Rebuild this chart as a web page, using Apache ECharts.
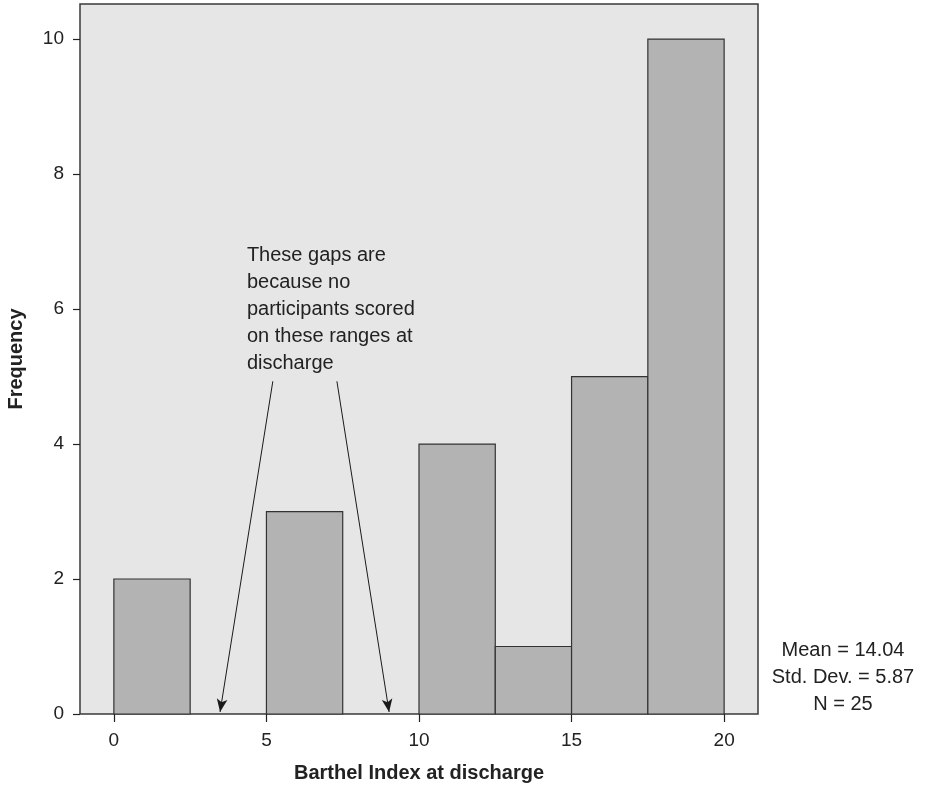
<!DOCTYPE html>
<html>
<head>
<meta charset="utf-8">
<script src="https://cdn.jsdelivr.net/npm/echarts@6/dist/echarts.min.js"></script>
<style>
  html, body { margin: 0; padding: 0; background: #fff; }
  #chart { width: 926px; height: 787px; }
</style>
</head>
<body>
<div id="chart"></div>
<script>
// Histogram bins of the Barthel Index (width 2.5) and their counts
const binStarts = [0, 2.5, 5, 7.5, 10, 12.5, 15, 17.5];
const binWidth = 2.5;
const frequencies = [2, 0, 3, 0, 4, 1, 5, 10];

const xTicks = [0, 5, 10, 15, 20];
const yTicks = [0, 2, 4, 6, 8, 10];

// Annotation: two pointer lines from under the note down to the empty bins
const pointerStarts = [[5.21, 4.93], [7.31, 4.93]];
const pointerEnds = [[3.48, 0.03], [9.02, 0.03]];
const noteTopLeft = [4.36, 7.0];
const noteLines = [
  'These gaps are',
  'because no',
  'participants scored',
  'on these ranges at',
  'discharge'
];

const statsLines = ['Mean = 14.04', 'Std. Dev. = 5.87', 'N = 25'];

const FONT = '"Liberation Sans", Arial, Helvetica, sans-serif';
const chart = echarts.init(document.getElementById('chart'), null, { renderer: 'canvas' });

const bins = binStarts.map((s, i) => [s, s + binWidth, frequencies[i]]);

chart.setOption({
  animation: false,
  backgroundColor: '#ffffff',
  grid: {
    left: 80, right: 168, top: 4, bottom: 73,
    containLabel: false,
    outerBoundsMode: 'none',
    show: true,
    backgroundColor: '#e6e6e6',
    borderColor: '#3a3a3a',
    borderWidth: 1.5
  },
  xAxis: {
    type: 'value',
    min: -1.11, max: 21.11,
    splitLine: { show: false },
    axisLine: { show: false, onZero: false },
    axisTick: { show: true, customValues: xTicks, length: 8, lineStyle: { color: '#222', width: 1.2 } },
    axisLabel: { customValues: xTicks, color: '#222', fontSize: 19, fontFamily: FONT, margin: 17 },
    name: 'Barthel Index at discharge',
    nameLocation: 'middle',
    nameGap: 49,
    nameTextStyle: { color: '#222', fontSize: 20, fontWeight: 'bold', fontFamily: FONT }
  },
  yAxis: {
    type: 'value',
    min: 0, max: 10.52,
    splitLine: { show: false },
    axisLine: { show: false, onZero: false },
    axisTick: { show: true, customValues: yTicks, length: 7, lineStyle: { color: '#222', width: 1.2 } },
    axisLabel: { customValues: yTicks, color: '#222', fontSize: 19, fontFamily: FONT, margin: 16 },
    name: 'Frequency',
    nameLocation: 'middle',
    nameGap: 54,
    nameTextStyle: { color: '#222', fontSize: 20, fontWeight: 'bold', fontFamily: FONT }
  },
  series: [
    {
      type: 'custom',
      data: bins,
      renderItem: function (params, api) {
        const x0 = api.value(0), x1 = api.value(1), f = api.value(2);
        if (!f) return null;
        const p0 = api.coord([x0, f]);
        const p1 = api.coord([x1, 0]);
        return {
          type: 'rect',
          shape: { x: p0[0], y: p0[1], width: p1[0] - p0[0], height: p1[1] - p0[1] },
          style: { fill: '#b3b3b3', stroke: '#333333', lineWidth: 1.2 }
        };
      },
      encode: { x: [0, 1], y: 2 },
      silent: true
    },
    {
      type: 'line',
      data: [],
      silent: true,
      markLine: {
        silent: true,
        animation: false,
        symbol: ['none', 'arrow'],
        symbolSize: [8, 13],
        label: { show: false },
        lineStyle: { color: '#1a1a1a', width: 1, type: 'solid' },
        data: pointerStarts.map((s, i) => [{ coord: s }, { coord: pointerEnds[i] }])
      }
    }
  ]
});

// Text blocks placed from data coordinates
const notePx = chart.convertToPixel({ gridIndex: 0 }, noteTopLeft);
chart.setOption({
  graphic: [
    {
      type: 'text',
      x: notePx[0],
      y: notePx[1],
      style: {
        text: noteLines.join('\n'),
        fill: '#222',
        font: '20px ' + FONT,
        lineHeight: 27,
        verticalAlign: 'top'
      }
    },
    {
      type: 'text',
      x: 843,
      y: 637,
      style: {
        text: statsLines.join('\n'),
        fill: '#222',
        font: '20px ' + FONT,
        lineHeight: 27,
        align: 'center',
        verticalAlign: 'top'
      }
    }
  ]
});
</script>
</body>
</html>
